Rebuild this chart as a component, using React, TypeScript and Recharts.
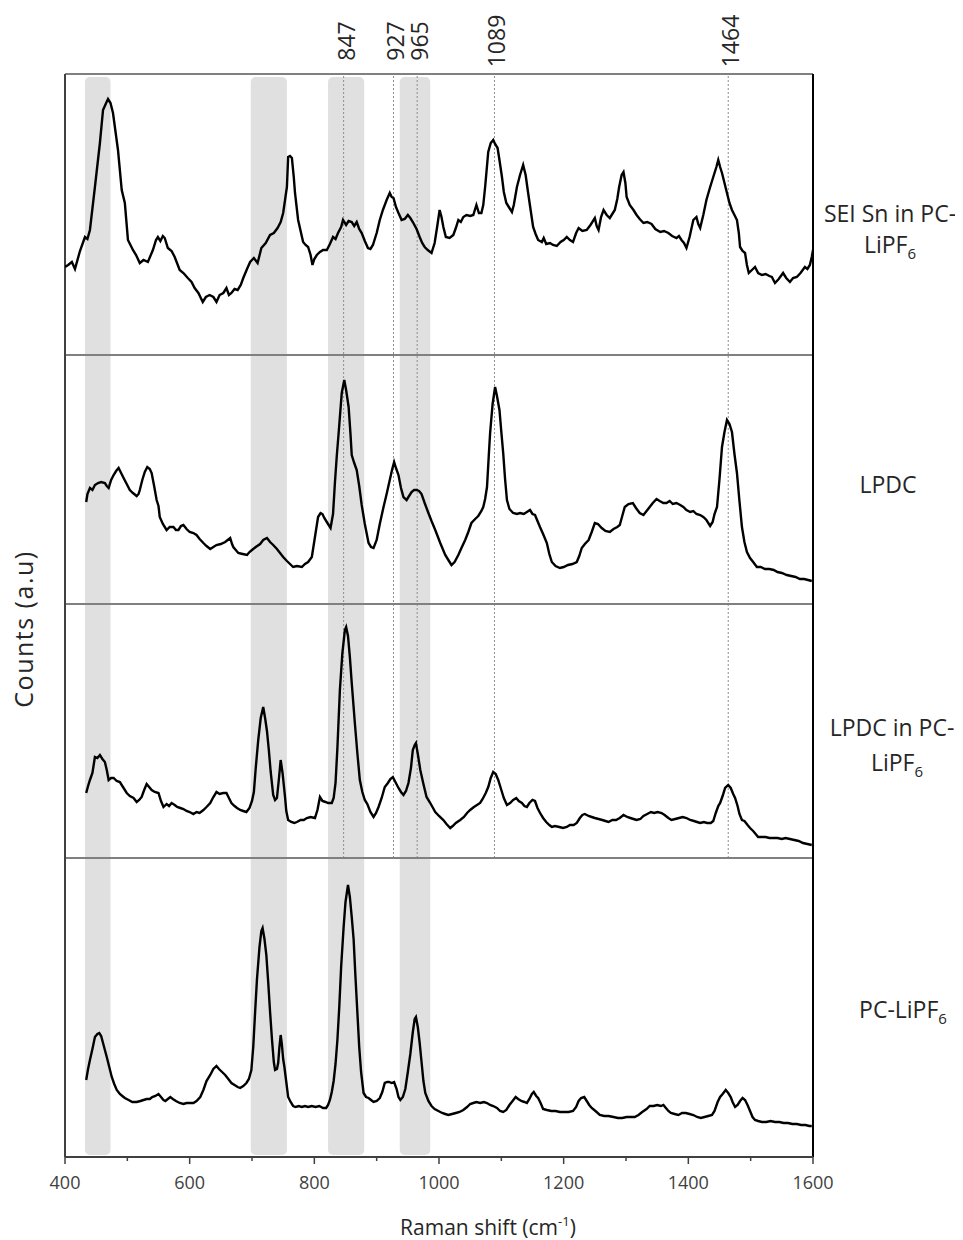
import React from 'react';
import { LineChart, Line, XAxis, YAxis, ReferenceLine, ReferenceArea } from 'recharts';

// Raman shift ticks
const xTicks = [400, 500, 600, 700, 800, 900, 1000, 1100, 1200, 1300, 1400, 1500, 1600];
const labeledTicks = [400, 600, 800, 1000, 1200, 1400, 1600];

// shaded regions (cm-1)
const bands: [number, number][] = [[432, 473], [698, 756], [822, 880], [937, 986]];

// marked peaks
const peaks = [847, 927, 965, 1089, 1464];

// vertical offset of each stacked spectrum (a.u.), top to bottom
const panelOffsets = [802, 553, 299, 0];
const stackTop = 1083;

// spectra: [Raman shift, counts a.u. above panel baseline]
const seiSn: [number, number][] = [
  [400, 88], [405, 90], [411, 93], [416, 86], [424, 104], [432, 118], [436, 116], [440, 125], [448, 168], [456, 212],
  [461, 245], [466, 252], [469, 256], [473, 252], [477, 242], [485, 205], [491, 165], [496, 152], [501, 115], [509, 105],
  [514, 100], [520, 92], [526, 95], [533, 93], [541, 105], [546, 115], [549, 118], [553, 114], [557, 119], [560, 117],
  [565, 107], [571, 104], [576, 98], [584, 85], [590, 82], [597, 77], [603, 73], [608, 67], [614, 62], [621, 53],
  [626, 58], [632, 60], [638, 58], [643, 53], [648, 60], [654, 62], [659, 67], [663, 60], [667, 62], [672, 66],
  [677, 65], [682, 70], [686, 77], [692, 86], [697, 93], [703, 97], [709, 92], [715, 107], [722, 112], [729, 120],
  [735, 122], [741, 127], [746, 133], [750, 142], [753, 155], [756, 168], [758, 198], [761, 199], [764, 197], [767, 178],
  [769, 162], [774, 135], [782, 113], [786, 110], [790, 108], [794, 100], [797, 90], [800, 96], [804, 100], [809, 103],
  [814, 105], [820, 105], [825, 111], [830, 118], [834, 116], [838, 122], [843, 128], [846, 135], [851, 130], [855, 134],
  [860, 133], [864, 129], [868, 133], [872, 126], [876, 122], [881, 114], [886, 107], [890, 106], [894, 110], [900, 122],
  [905, 135], [910, 145], [916, 155], [921, 162], [924, 158], [927, 157], [931, 148], [935, 142], [940, 135], [945, 136],
  [950, 140], [954, 137], [958, 133], [964, 126], [969, 118], [973, 112], [977, 108], [982, 105], [988, 102], [993, 112],
  [997, 128], [1001, 145], [1004, 138], [1007, 128], [1011, 118], [1017, 117], [1023, 120], [1027, 127], [1031, 135], [1035, 133],
  [1039, 138], [1044, 140], [1050, 139], [1055, 140], [1060, 150], [1064, 142], [1068, 142], [1071, 150], [1074, 168], [1079, 203],
  [1083, 212], [1087, 215], [1090, 211], [1094, 207], [1097, 195], [1101, 178], [1104, 163], [1108, 152], [1112, 148], [1117, 143],
  [1120, 150], [1125, 168], [1130, 180], [1135, 190], [1139, 180], [1143, 162], [1147, 145], [1151, 128], [1155, 121], [1159, 115],
  [1165, 113], [1168, 117], [1172, 111], [1178, 112], [1183, 110], [1189, 109], [1195, 113], [1200, 115], [1205, 118], [1210, 115],
  [1215, 113], [1220, 122], [1224, 127], [1230, 124], [1237, 125], [1243, 130], [1250, 137], [1253, 129], [1256, 125], [1260, 138],
  [1264, 145], [1269, 140], [1274, 137], [1279, 142], [1282, 145], [1286, 156], [1289, 168], [1293, 180], [1296, 183], [1299, 172],
  [1301, 158], [1306, 150], [1312, 145], [1317, 140], [1322, 136], [1328, 132], [1334, 133], [1341, 131], [1347, 126], [1355, 123],
  [1361, 124], [1368, 122], [1374, 119], [1381, 117], [1385, 119], [1389, 115], [1393, 112], [1397, 107], [1402, 118], [1408, 135],
  [1413, 138], [1416, 131], [1419, 127], [1424, 140], [1429, 155], [1435, 168], [1440, 178], [1445, 188], [1448, 195], [1451, 188],
  [1454, 182], [1458, 172], [1462, 162], [1466, 152], [1470, 145], [1474, 140], [1478, 135], [1481, 122], [1483, 108], [1487, 104],
  [1491, 102], [1494, 90], [1497, 82], [1502, 85], [1507, 88], [1512, 82], [1518, 80], [1524, 81], [1530, 79], [1534, 78],
  [1539, 72], [1545, 76], [1552, 82], [1557, 77], [1563, 73], [1568, 77], [1574, 78], [1580, 82], [1587, 88], [1591, 86],
  [1595, 90], [1598, 98], [1600, 105],
];

const lpdc: [number, number][] = [
  [434, 102], [436, 110], [440, 116], [444, 114], [448, 119], [453, 121], [458, 122], [464, 121], [467, 118], [470, 116],
  [474, 124], [478, 129], [482, 133], [486, 136], [490, 131], [494, 126], [499, 120], [504, 114], [509, 111], [515, 108],
  [518, 110], [520, 114], [524, 124], [528, 132], [532, 137], [536, 135], [539, 131], [543, 118], [547, 104], [550, 98],
  [552, 87], [557, 80], [563, 74], [568, 77], [574, 77], [578, 74], [582, 74], [586, 78], [590, 79], [595, 75],
  [600, 72], [606, 71], [611, 69], [616, 65], [622, 61], [627, 58], [633, 55], [638, 57], [643, 59], [650, 60],
  [657, 62], [661, 64], [665, 66], [668, 60], [670, 57], [674, 54], [678, 51], [685, 50], [692, 49], [696, 52],
  [700, 54], [706, 57], [713, 60], [718, 64], [724, 66], [729, 62], [734, 59], [740, 55], [745, 51], [750, 47],
  [756, 43], [761, 40], [766, 37], [772, 38], [780, 37], [785, 40], [790, 42], [796, 47], [801, 67], [806, 87],
  [810, 91], [813, 90], [816, 86], [820, 82], [826, 76], [830, 90], [833, 121], [836, 148], [839, 171], [844, 211],
  [848, 224], [851, 214], [855, 197], [858, 170], [860, 149], [864, 141], [868, 134], [872, 118], [876, 99], [881, 80],
  [887, 61], [891, 57], [895, 56], [900, 64], [905, 80], [911, 97], [916, 110], [921, 124], [925, 135], [928, 142],
  [931, 136], [935, 129], [939, 116], [943, 107], [948, 104], [952, 108], [956, 112], [960, 114], [964, 114], [968, 113],
  [972, 110], [977, 101], [983, 91], [988, 83], [994, 74], [1002, 61], [1010, 49], [1015, 44], [1020, 39], [1025, 42],
  [1031, 49], [1036, 56], [1042, 64], [1047, 72], [1052, 81], [1058, 85], [1063, 88], [1068, 93], [1071, 97], [1074, 105],
  [1077, 117], [1080, 150], [1082, 171], [1086, 200], [1090, 217], [1093, 208], [1097, 194], [1100, 172], [1103, 151], [1106, 125],
  [1109, 104], [1113, 95], [1119, 91], [1125, 90], [1130, 91], [1136, 90], [1141, 92], [1146, 94], [1150, 90], [1154, 89],
  [1158, 83], [1162, 77], [1167, 70], [1173, 61], [1177, 50], [1181, 42], [1187, 38], [1194, 36], [1200, 37], [1207, 39],
  [1214, 40], [1221, 42], [1225, 48], [1229, 56], [1234, 60], [1240, 64], [1245, 72], [1250, 81], [1255, 80], [1261, 76],
  [1267, 73], [1274, 72], [1280, 75], [1286, 77], [1290, 79], [1294, 88], [1298, 97], [1304, 100], [1311, 101], [1316, 96],
  [1322, 91], [1328, 89], [1333, 93], [1338, 97], [1343, 101], [1349, 105], [1354, 103], [1360, 101], [1365, 101], [1370, 103],
  [1375, 100], [1381, 101], [1387, 99], [1392, 97], [1397, 94], [1403, 92], [1408, 93], [1413, 90], [1419, 89], [1424, 87],
  [1429, 84], [1435, 78], [1439, 82], [1442, 90], [1446, 97], [1450, 125], [1454, 157], [1458, 172], [1462, 184], [1466, 180],
  [1470, 172], [1474, 150], [1478, 131], [1482, 103], [1486, 77], [1490, 62], [1494, 52], [1499, 46], [1504, 42], [1510, 37],
  [1516, 37], [1523, 35], [1530, 35], [1537, 34], [1543, 32], [1550, 31], [1558, 29], [1565, 28], [1572, 27], [1579, 25],
  [1586, 25], [1592, 24], [1598, 23],
];

const lpdcInPc: [number, number][] = [
  [434, 65], [437, 72], [440, 78], [444, 85], [448, 101], [452, 100], [456, 103], [460, 99], [464, 96], [467, 88],
  [470, 78], [474, 80], [478, 80], [483, 77], [488, 76], [493, 71], [499, 65], [504, 62], [510, 60], [515, 56],
  [519, 58], [523, 61], [527, 68], [531, 74], [535, 71], [539, 68], [544, 66], [550, 65], [554, 57], [558, 51],
  [563, 54], [567, 52], [571, 55], [576, 53], [580, 51], [585, 50], [590, 49], [595, 47], [600, 46], [606, 44],
  [611, 46], [616, 45], [622, 48], [627, 51], [633, 55], [638, 61], [643, 66], [648, 64], [654, 65], [659, 65],
  [663, 60], [667, 55], [672, 52], [676, 50], [681, 48], [686, 47], [691, 46], [696, 50], [700, 57], [703, 66],
  [706, 90], [710, 118], [714, 140], [718, 151], [721, 140], [724, 127], [727, 108], [730, 86], [734, 63], [737, 58],
  [740, 60], [743, 78], [746, 98], [749, 85], [753, 61], [755, 47], [758, 38], [763, 36], [768, 35], [772, 36],
  [778, 38], [783, 38], [788, 40], [794, 41], [801, 40], [805, 48], [809, 61], [813, 57], [818, 56], [822, 55],
  [828, 55], [831, 60], [834, 75], [837, 110], [841, 168], [845, 205], [849, 228], [851, 231], [854, 222], [857, 201],
  [860, 175], [865, 135], [869, 105], [873, 78], [877, 66], [881, 58], [885, 54], [890, 46], [895, 41], [899, 45],
  [903, 51], [908, 60], [913, 71], [918, 75], [922, 79], [926, 81], [930, 76], [935, 70], [939, 66], [943, 63],
  [947, 67], [951, 75], [955, 90], [958, 108], [961, 113], [963, 115], [966, 104], [970, 88], [975, 74], [980, 61],
  [986, 55], [994, 46], [1000, 42], [1007, 38], [1012, 34], [1018, 30], [1022, 32], [1027, 35], [1034, 38], [1040, 41],
  [1045, 45], [1050, 48], [1056, 51], [1061, 53], [1066, 55], [1070, 59], [1075, 65], [1079, 71], [1083, 80], [1087, 86],
  [1091, 84], [1095, 78], [1100, 68], [1104, 60], [1109, 53], [1114, 55], [1119, 58], [1124, 60], [1128, 57], [1133, 55],
  [1137, 52], [1141, 51], [1145, 55], [1150, 58], [1154, 57], [1158, 50], [1163, 44], [1167, 40], [1172, 36], [1177, 33],
  [1181, 31], [1186, 32], [1193, 31], [1199, 30], [1205, 31], [1210, 33], [1216, 33], [1221, 35], [1226, 40], [1230, 43],
  [1234, 44], [1240, 42], [1245, 41], [1250, 40], [1256, 39], [1262, 38], [1267, 37], [1272, 36], [1278, 38], [1284, 38],
  [1290, 40], [1296, 43], [1302, 41], [1307, 40], [1312, 39], [1317, 38], [1323, 39], [1328, 42], [1334, 44], [1340, 46],
  [1345, 45], [1351, 46], [1357, 45], [1362, 43], [1368, 40], [1373, 38], [1379, 39], [1385, 40], [1391, 41], [1397, 40],
  [1403, 38], [1409, 37], [1414, 36], [1419, 35], [1425, 36], [1430, 35], [1436, 35], [1440, 37], [1444, 45], [1448, 52],
  [1451, 55], [1455, 62], [1459, 70], [1464, 73], [1468, 70], [1472, 64], [1475, 60], [1479, 52], [1482, 44], [1486, 38],
  [1490, 37], [1495, 33], [1499, 30], [1504, 27], [1508, 24], [1512, 21], [1518, 21], [1524, 21], [1530, 20], [1536, 20],
  [1543, 20], [1550, 19], [1556, 20], [1563, 19], [1570, 18], [1577, 17], [1584, 15], [1591, 14], [1598, 13],
];

const pcLipf: [number, number][] = [
  [434, 77], [437, 88], [440, 97], [444, 108], [448, 120], [452, 123], [455, 124], [458, 121], [461, 114], [464, 107],
  [467, 100], [471, 90], [475, 80], [479, 73], [483, 67], [488, 63], [492, 61], [496, 59], [502, 57], [508, 55],
  [515, 55], [521, 56], [526, 57], [531, 58], [536, 58], [540, 60], [545, 61], [550, 63], [554, 60], [558, 57],
  [561, 56], [565, 58], [569, 60], [573, 58], [578, 56], [584, 54], [590, 53], [595, 54], [600, 54], [606, 54],
  [611, 56], [617, 60], [622, 67], [627, 76], [633, 82], [638, 88], [643, 91], [647, 88], [652, 85], [657, 82],
  [662, 78], [667, 74], [672, 72], [677, 70], [681, 69], [686, 71], [691, 74], [695, 78], [699, 87], [702, 110],
  [705, 145], [708, 178], [712, 210], [715, 226], [717, 229], [720, 218], [723, 202], [726, 175], [729, 145], [732, 118],
  [735, 95], [737, 87], [740, 88], [742, 94], [744, 110], [746, 122], [748, 112], [750, 98], [752, 90], [755, 75],
  [758, 60], [762, 55], [766, 51], [770, 50], [775, 51], [780, 50], [785, 51], [790, 50], [796, 51], [802, 50],
  [808, 51], [814, 49], [819, 49], [822, 52], [825, 57], [828, 65], [831, 76], [834, 93], [837, 117], [840, 150],
  [843, 190], [847, 230], [850, 255], [854, 272], [857, 260], [860, 240], [863, 218], [866, 180], [869, 145], [872, 110],
  [875, 85], [879, 64], [883, 60], [887, 59], [891, 57], [895, 55], [900, 56], [905, 59], [909, 65], [913, 74],
  [917, 75], [920, 75], [924, 74], [928, 75], [932, 68], [935, 60], [938, 57], [942, 60], [946, 68], [950, 85],
  [954, 103], [958, 125], [961, 138], [963, 140], [966, 130], [969, 114], [972, 95], [975, 76], [978, 64], [983, 56],
  [988, 51], [993, 48], [999, 46], [1005, 44], [1010, 43], [1015, 42], [1021, 43], [1027, 44], [1033, 45], [1039, 47],
  [1045, 50], [1050, 53], [1055, 54], [1060, 55], [1066, 54], [1072, 55], [1077, 54], [1082, 52], [1087, 51], [1093, 49],
  [1098, 46], [1103, 45], [1108, 47], [1113, 52], [1118, 56], [1123, 60], [1127, 58], [1132, 56], [1137, 55], [1141, 54],
  [1145, 58], [1149, 63], [1152, 65], [1156, 61], [1159, 59], [1163, 54], [1167, 48], [1173, 47], [1180, 46], [1187, 46],
  [1194, 45], [1201, 45], [1208, 45], [1215, 46], [1220, 50], [1224, 56], [1228, 59], [1233, 60], [1237, 56], [1241, 52],
  [1245, 49], [1251, 46], [1258, 42], [1265, 41], [1272, 41], [1280, 40], [1287, 39], [1294, 39], [1301, 40], [1308, 40],
  [1314, 40], [1320, 42], [1326, 45], [1333, 48], [1338, 51], [1344, 51], [1350, 52], [1356, 51], [1360, 52], [1364, 49],
  [1368, 46], [1372, 44], [1378, 43], [1384, 42], [1390, 44], [1396, 44], [1402, 43], [1408, 42], [1414, 40], [1420, 39],
  [1426, 40], [1432, 41], [1438, 42], [1442, 46], [1447, 55], [1451, 60], [1455, 63], [1460, 67], [1464, 64], [1468, 60],
  [1471, 55], [1475, 50], [1479, 52], [1483, 56], [1487, 59], [1491, 57], [1495, 52], [1499, 46], [1503, 40], [1507, 37],
  [1512, 36], [1518, 35], [1525, 35], [1532, 36], [1539, 35], [1546, 35], [1553, 34], [1560, 34], [1567, 33], [1574, 33],
  [1581, 32], [1588, 32], [1594, 31], [1598, 31],
];

const spectra = [seiSn, lpdc, lpdcInPc, pcLipf];

const stacked = spectra.map((s, i) => s.map(([x, y]) => ({ x, y: y + panelOffsets[i] })));

const font = '"Open Sans", "Noto Sans", sans-serif';

const AxisTick = (props: any) => {
  const { x, y, payload } = props;
  const major = labeledTicks.includes(payload.value);
  return (
    <g>
      <line x1={x} x2={x} y1={y} y2={y + (major ? 7 : 4)} stroke="#404040" strokeWidth={1.5} />
      {major && (
        <text x={x} y={y + 32} textAnchor="middle" fontSize={18} fill="#404040" fontFamily={font}>
          {payload.value}
        </text>
      )}
    </g>
  );
};

const peakLabel = (text: string) => (props: any) => {
  const vb = props.viewBox || {};
  const cx = vb.x + 11;
  const cy = vb.y - 33;
  return (
    <text x={cx} y={cy} textAnchor="middle" fontSize={23} fill="#262626" fontFamily={font}
      transform={`rotate(-90 ${cx} ${cy})`}>
      {text}
    </text>
  );
};

const bandShape = (props: any) => {
  const { x, y, width, height } = props;
  return <rect x={x} y={y} width={width} height={height} rx={5} ry={5} fill="#e0e0e0" />;
};

export default function App() {
  return (
    <div style={{ position: 'relative', width: 955, height: 1232, fontFamily: font }}>
      <LineChart width={955} height={1232} margin={{ top: 66, right: 150, bottom: 43, left: 57 }}>
        <XAxis type="number" dataKey="x" domain={[400, 1600]} ticks={xTicks} allowDataOverflow
          height={40} tickSize={0} tickMargin={0} tickLine={false} tick={<AxisTick />}
          axisLine={{ stroke: '#404040', strokeWidth: 2 }} interval={0} />
        <YAxis type="number" domain={[0, stackTop]} hide allowDataOverflow />

        {bands.map(([a, b]) => (
          <ReferenceArea key={a} x1={a} x2={b} y1={2} y2={stackTop - 3} shape={bandShape} ifOverflow="visible" />
        ))}

        {peaks.map((p) => (
          <ReferenceLine key={p} segment={[{ x: p, y: panelOffsets[2] }, { x: p, y: stackTop }]}
            stroke="#8c8c8c" strokeWidth={1} strokeDasharray="2 2" label={peakLabel(String(p))} ifOverflow="visible" />
        ))}

        {panelOffsets.slice(0, 3).map((o) => (
          <ReferenceLine key={o} y={o} stroke="#808080" strokeWidth={2} />
        ))}
        <ReferenceLine y={stackTop} stroke="#808080" strokeWidth={2} />
        <ReferenceLine x={400} stroke="#404040" strokeWidth={2} />
        <ReferenceLine x={1600} stroke="#000" strokeWidth={2} />

        {stacked.map((d, i) => (
          <Line key={i} data={d} dataKey="y" type="linear" stroke="#000" strokeWidth={2.4}
            dot={false} activeDot={false} isAnimationActive={false} />
        ))}
      </LineChart>

      {/* text overlay in page coordinates */}
      <svg width={963} height={1240} style={{ position: 'absolute', left: -8, top: -8, pointerEvents: 'none', overflow: 'visible' }}
        fontFamily={font} fill="#262626">
        <g fontSize={23} textAnchor="middle">
          <text x={890} y={222}>SEI Sn in PC-</text>
          <text x={890} y={253}>LiPF<tspan fontSize={15} dy={6}>6</tspan></text>
          <text x={888} y={493}>LPDC</text>
          <text x={892} y={736}>LPDC in PC-</text>
          <text x={897} y={771}>LiPF<tspan fontSize={15} dy={6}>6</tspan></text>
          <text x={903} y={1018}>PC-LiPF<tspan fontSize={15} dy={6}>6</tspan></text>
        </g>
        <text x={488} y={1235} fontSize={21} textAnchor="middle">
          Raman shift (cm<tspan fontSize={13} dy={-9}>-1</tspan><tspan dy={9}>)</tspan>
        </text>
        <text x={33} y={629} fontSize={25} textAnchor="middle" letterSpacing={1.5}
          transform="rotate(-90 33 629)">Counts (a.u)</text>
      </svg>
    </div>
  );
}
